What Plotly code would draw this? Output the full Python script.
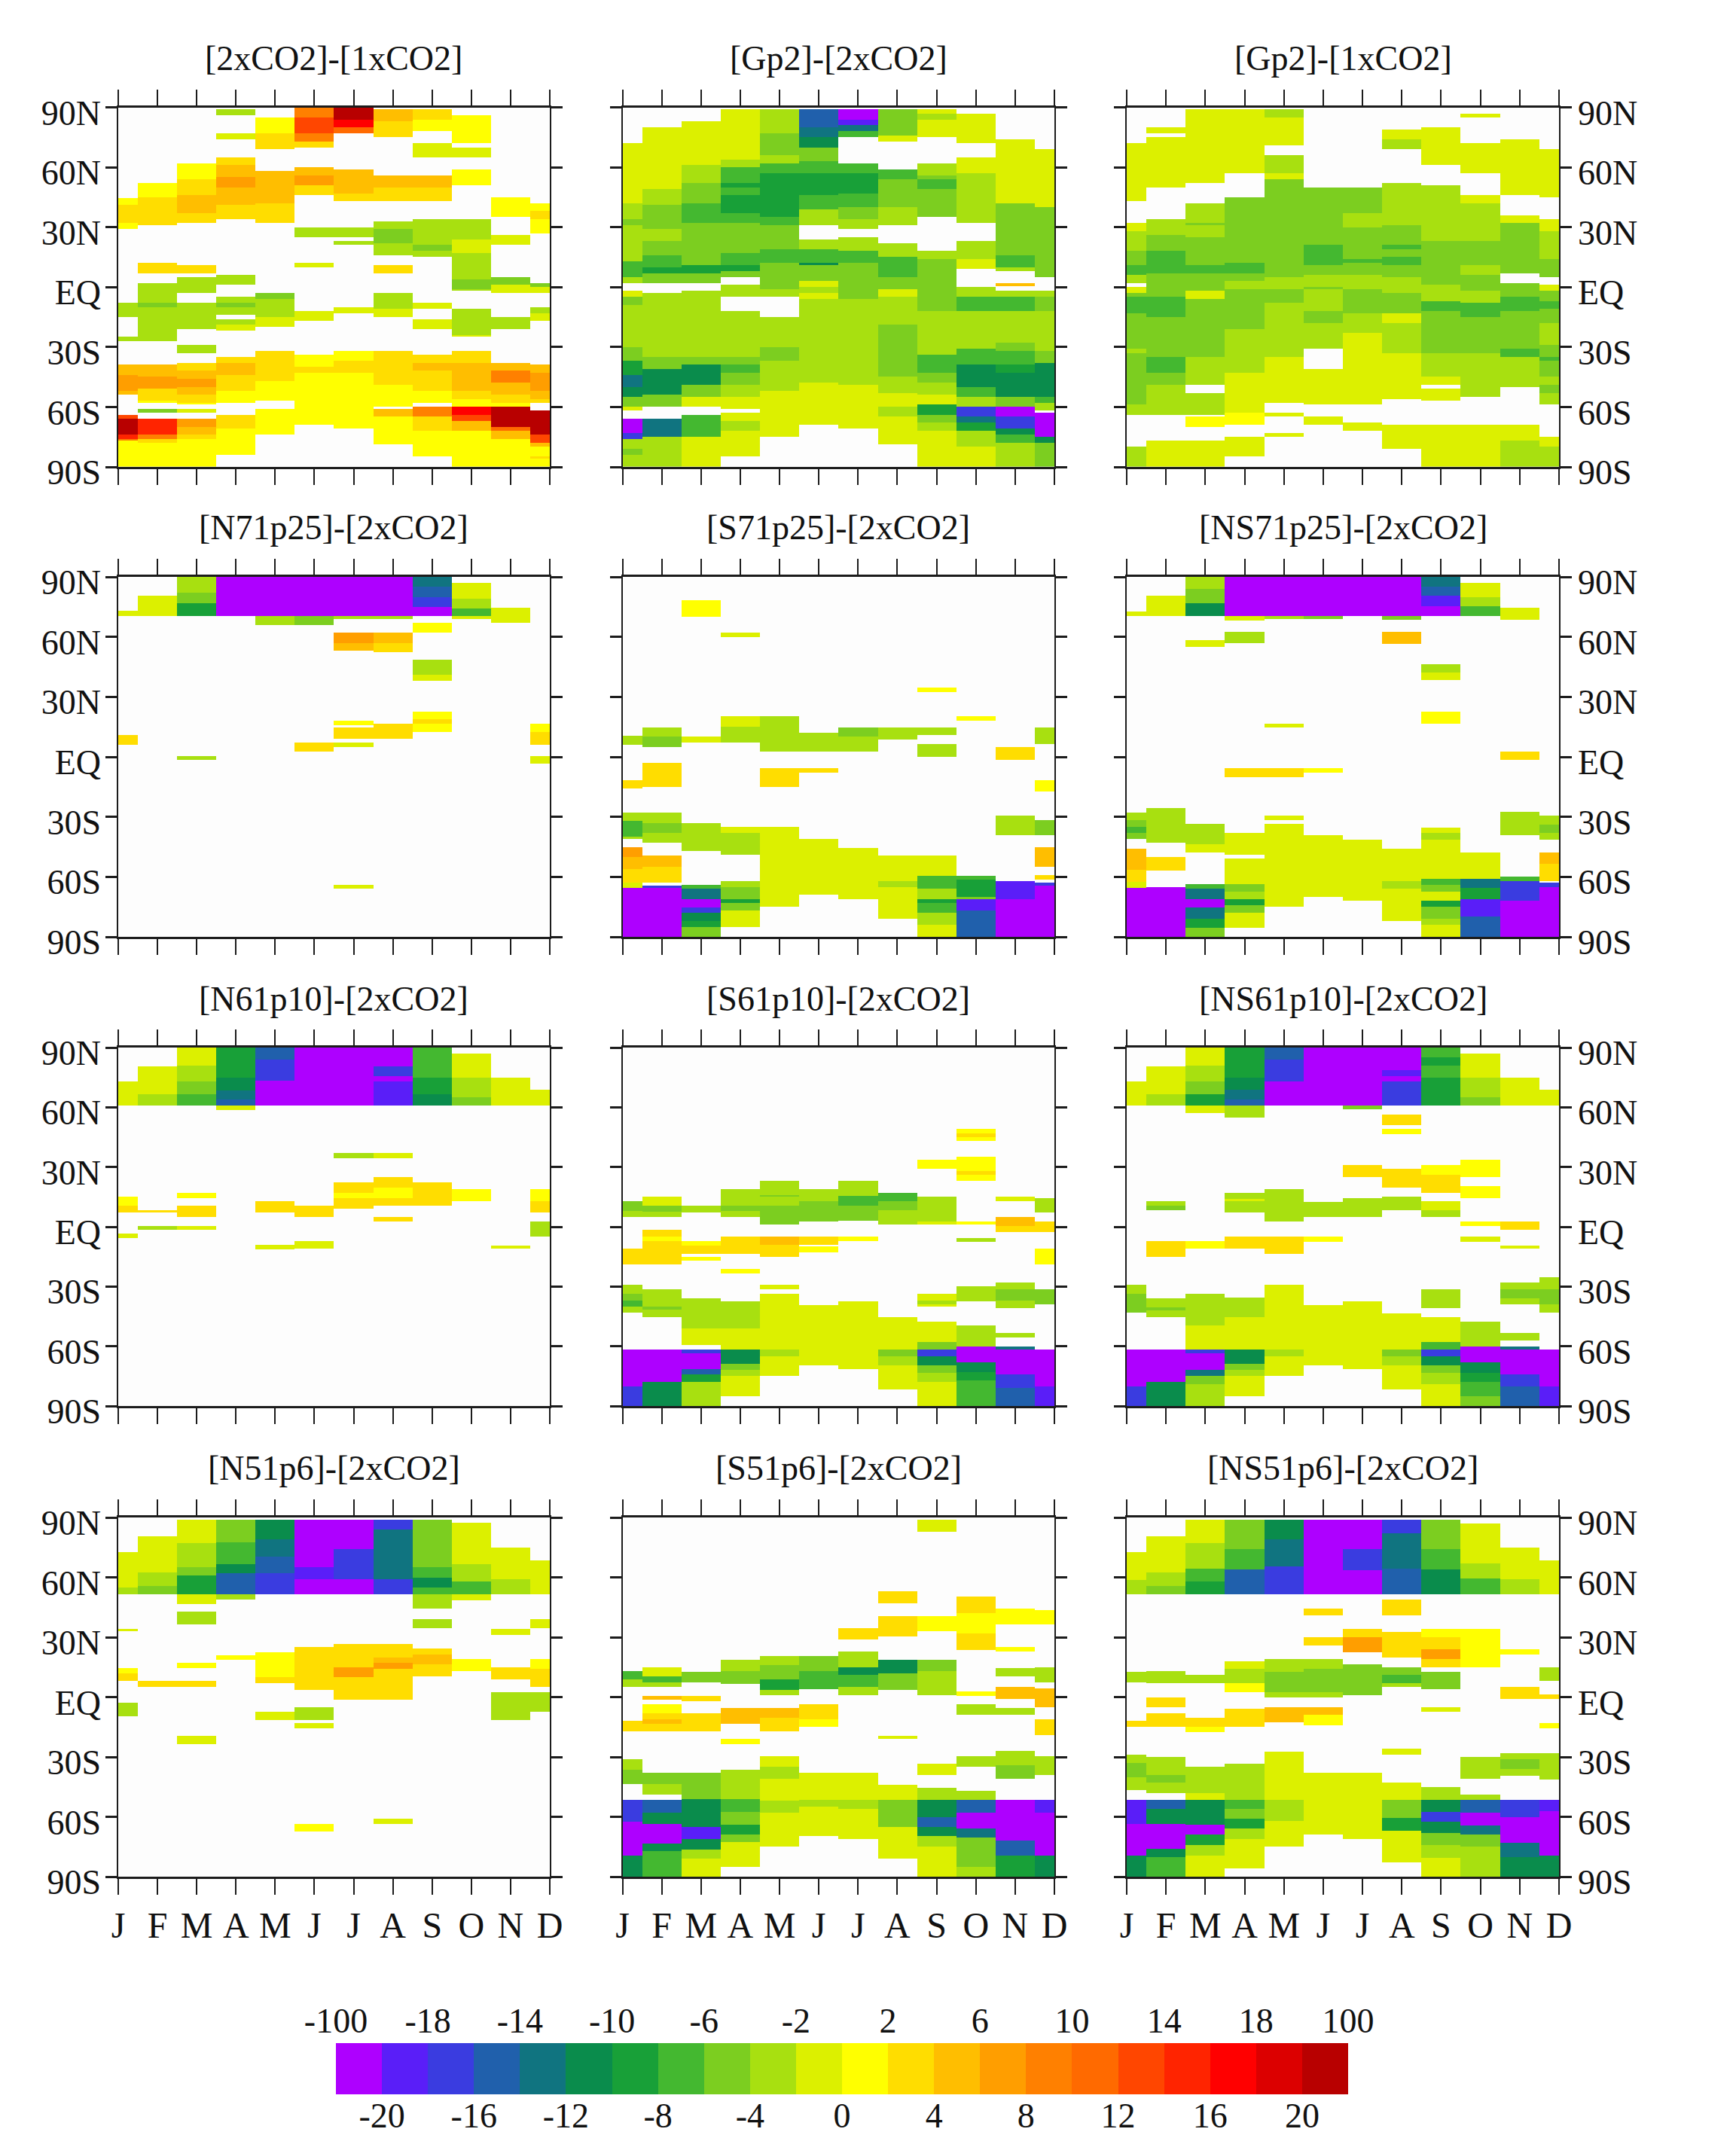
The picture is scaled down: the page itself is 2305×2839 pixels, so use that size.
import numpy as np
import plotly.graph_objects as go

# Each month is a run-length list: lat, value, lat, value, ..., lat  (0 = not significant / blank)
MONTHS = ["J", "F", "M", "A", "M", "J", "J", "A", "S", "O", "N", "D"]
LAT_TICKS = [90, 60, 30, 0, -30, -60, -90]
LAT_LABELS = ["90N", "60N", "30N", "EQ", "30S", "60S", "90S"]
BAR_EDGES = [-100, -20, -18, -16, -14, -12, -10, -8, -6, -4, -2, 0, 2, 4, 6, 8, 10, 12, 14, 16, 18, 20, 100]
BAR_COLORS = ["#AE00FF", "#5A1EF8", "#3A3CE0", "#2060AC", "#107480", "#0A8C4C", "#18A038", "#44B830",
              "#7CCE20", "#A8E010", "#DCF000", "#FFFF00", "#FFDD00", "#FFBE00", "#FF9E00", "#FF8000",
              "#FF6A00", "#FF4600", "#FF2400", "#FF0000", "#DC0000", "#B80000"]
TITLES = ["[2xCO2]-[1xCO2]", "[Gp2]-[2xCO2]", "[Gp2]-[1xCO2]",
          "[N71p25]-[2xCO2]", "[S71p25]-[2xCO2]", "[NS71p25]-[2xCO2]",
          "[N61p10]-[2xCO2]", "[S61p10]-[2xCO2]", "[NS61p10]-[2xCO2]",
          "[N51p6]-[2xCO2]", "[S51p6]-[2xCO2]", "[NS51p6]-[2xCO2]"]

P_2x1x = [
 [44.5,1,41,3,32,1,29,0,-8,-3,-15,0,-25,-3,-27,0,-39,5,-44,7,-52,5,-54,0,-64,13,-66,30,-74,15,-76,9,-77,1,-90],
 [52,1,45,3,31,0,12,3,7,0,2,-3,-8,-5,-10,-3,-27,0,-39,5,-45,7,-51,3,-57,1,-58,0,-61,-5,-63,0,-66,15,-74,9,-76,3,-78,1,-90],
 [62,1,54,3,46,5,37,3,32,0,11,3,7,0,5,-3,-3,0,-8,-3,-21,0,-29,-3,-33,0,-38,3,-42,5,-46,7,-50,5,-54,3,-58,1,-59,0,-61,-1,-63,0,-66,7,-70,5,-74,3,-76,1,-90],
 [89,-3,86,0,77,-1,74,0,65,3,61,5,55,7,50,5,41,3,34,0,6,-3,1,0,-5,-3,-8,-5,-10,-3,-14,0,-16,-3,-19,-1,-22,0,-35,3,-38,5,-44,3,-52,1,-58,0,-64,3,-71,1,-84,0,-90],
 [85,1,77,3,69,0,58,5,42,3,32,0,-3,-5,-6,-3,-15,-1,-20,0,-32,3,-47,1,-57,0,-61,1,-74,0,-90],
 [90,9,85,13,77,9,73,3,70,0,60,5,56,7,51,3,46,0,30,-3,25,0,12,-1,10,0,-12,-1,-17,0,-34,1,-40,3,-43,1,-69,0,-90],
 [90,30,84,17,80,11,77,0,59,5,47,3,43,0,30,-3,25,0,23,-3,21,0,-10,-1,-13,0,-32,1,-37,3,-43,1,-71,0,-90],
 [89,5,83,3,75,0,56,5,50,3,43,0,33,-3,29,-5,22,-3,16,0,11,3,7,0,-3,-3,-11,-1,-15,0,-32,3,-49,1,-60,0,-61,5,-65,1,-79,0,-90],
 [89,3,84,1,78,0,72,-1,65,0,56,5,50,3,43,0,34,-3,21,-5,18,-3,15,0,-8,-1,-11,0,-16,-1,-21,0,-34,3,-38,5,-42,3,-52,1,-58,0,-60,9,-65,3,-72,1,-85,0,-90],
 [86,1,72,0,70,-1,65,0,59,1,51,0,34,-3,24,-1,17,-3,4,-5,-1,-3,-2,0,-11,-3,-24,-1,-25,0,-32,3,-38,5,-52,3,-56,1,-60,17,-64,13,-67,5,-72,1,-90],
 [45,1,35,0,26,-1,21,0,5,-5,1,-1,-3,0,-15,-3,-21,0,-38,5,-42,9,-48,5,-54,3,-58,1,-60,30,-70,11,-72,5,-76,1,-90],
 [42,1,38,3,34,1,27,0,2,-5,0,-1,-3,0,-10,-3,-13,-1,-17,0,-39,5,-43,7,-52,5,-56,3,-58,0,-62,30,-74,13,-78,5,-80,1,-85,3,-86,1,-90],
]
P_Gp2_2x = [
 [72,-1,42,-3,34,-5,31,-3,13,-7,5,-3,2,0,-2,-1,-5,-5,-9,-3,-30,-5,-37,-9,-44,-14,-50,-11,-55,-5,-60,-1,-62,0,-66,-30,-73,-17,-76,-3,-81,-5,-84,-3,-90],
 [80,-1,49,-3,41,-5,29,-3,23,-5,16,-7,10,-9,7,-5,2,0,-3,-3,-35,-5,-41,-11,-54,-5,-60,0,-66,-14,-75,-3,-90],
 [83,-1,61,-3,52,-5,42,-7,32,-5,11,-9,7,-5,2,0,-2,-3,-35,-5,-39,-11,-49,-5,-55,-1,-60,0,-64,-7,-75,-1,-90],
 [89,-1,64,-3,60,-7,52,-9,50,-7,46,-9,37,-7,32,-5,17,-7,11,-9,8,-5,5,0,1,-3,-5,0,-12,-3,-35,-5,-39,-7,-43,-5,-49,-3,-55,-1,-61,0,-63,-1,-67,-3,-72,-1,-85,0,-90],
 [89,-3,77,-5,66,-3,62,-7,57,-9,35,-7,31,-5,19,-7,12,-5,-1,-3,-5,0,-15,-3,-30,-5,-37,-3,-52,-1,-75,0,-90],
 [89,-15,80,-13,75,-11,70,-5,63,-7,57,-10,46,-7,39,-3,31,0,24,-3,19,-7,12,-11,11,-5,3,-1,0,-3,-3,-1,-6,-3,-48,-1,-69,0,-90],
 [89,-30,84,-19,81,-13,78,-7,75,0,62,-7,57,-9,47,-7,40,-5,34,-3,29,0,25,-3,18,-7,12,-5,-6,-3,-49,-1,-71,0,-90],
 [89,-5,76,-1,73,0,59,-7,54,-5,40,-3,31,0,22,-3,15,-7,5,-5,-1,-1,-5,-3,-19,-5,-45,-3,-53,-1,-60,-3,-65,-1,-79,0,-90],
 [89,-1,87,-3,84,-1,75,0,62,-3,56,-5,54,-7,49,-5,35,0,18,-3,14,-5,-12,-3,-34,-7,-43,-5,-48,-3,-54,-1,-59,-10,-64,-5,-68,-3,-72,-1,-90],
 [87,-1,72,0,65,-1,57,-3,32,0,23,-3,14,-1,9,0,0,-3,-5,-7,-12,-3,-31,-7,-39,-11,-50,-7,-55,-3,-60,-18,-65,-13,-68,-9,-72,-3,-80,-1,-90],
 [74,-1,42,-5,16,-7,10,-3,8,0,2,5,0.5,0,-2,-3,-5,-7,-12,-3,-28,-5,-32,-7,-39,-9,-43,-12,-55,-5,-60,-30,-65,-18,-71,-11,-74,-7,-78,-3,-90],
 [69,-1,40,-5,5,0,-2,-3,-5,-5,-12,-3,-32,-5,-38,-11,-55,-7,-58,-3,-62,0,-63,-30,-75,-12,-78,-5,-90],
]
P_Gp2_1x = [
 [72,-1,43,0,32,-1,28,-3,18,-5,11,-7,6,-3,2,0,0,-1,-3,-5,-5,-7,-13,-5,-31,-3,-33,-5,-59,-3,-64,0,-80,-3,-90],
 [80,-1,77,0,75,-1,50,0,34,-3,26,-5,18,-7,7,-5,-5,-7,-15,-5,-35,-7,-43,-5,-49,-3,-64,0,-77,-1,-90],
 [89,-1,52,0,42,-3,32,-5,31,-3,25,-5,11,-7,7,-5,-2,-1,-6,-5,-35,-3,-49,0,-53,-3,-64,0,-65,1,-70,0,-77,-1,-90],
 [89,-1,57,0,45,-5,12,-7,7,-5,3,-3,-1,-5,-21,-3,-43,-1,-63,1,-69,0,-75,-1,-85,0,-90],
 [89,-3,85,-1,71,0,66,-3,57,-1,54,-5,5,-3,-1,-5,-8,-3,-35,-1,-58,0,-63,-1,-65,0,-73,-1,-75,0,-90],
 [50,-5,21,-7,11,-5,6,-3,0,-5,-1,-3,-12,-5,-18,-3,-31,0,-41,-1,-59,0,-65,-1,-69,0,-90],
 [50,-5,37,-3,30,-5,14,-7,12,-5,6,-3,-1,-5,-13,-3,-23,-1,-59,0,-68,-1,-72,0,-90],
 [79,-1,74,-3,69,0,52,-3,31,-5,21,-7,19,-5,15,-7,11,-5,5,-3,-3,-5,-13,-1,-18,-3,-33,-1,-56,0,-69,-1,-81,0,-90],
 [80,-1,61,0,51,-3,23,-5,1,-3,-7,-7,-12,-5,-33,-3,-45,-1,-49,0,-51,-1,-57,0,-69,-1,-90],
 [87,-1,85,0,72,-1,57,0,46,-1,42,-3,23,-5,11,-3,6,-5,-2,-3,-8,-7,-15,-5,-33,-3,-55,0,-69,-1,-90],
 [74,-1,46,0,36,-1,32,-5,7,0,2,-5,-5,-7,-12,-5,-31,-7,-35,-3,-50,0,-69,-1,-77,-3,-90],
 [69,-1,45,0,34,-1,28,-3,14,-5,5,0,1,-1,-2,-5,-7,-7,-11,-5,-18,-3,-29,-5,-35,-7,-37,-5,-45,-3,-49,-5,-53,-3,-59,0,-75,-1,-80,-3,-90],
]
P_N71 = [
 [73,-1,70.5,0,11,3,6,0,-90],
 [80.5,-1,70.5,0,-90],
 [90,-3,82,-5,77,-10,70.5,0,0.5,-3,-1.5,0,-90],
 [90,-30,70.5,0,-90],
 [90,-30,70.5,-3,66,0,-90],
 [90,-30,70.5,-6,66,0,7,3,2.5,0,-90],
 [90,-30,70.5,-3,69,0,62,7,57,5,53,0,18,1,16,0,14.5,3,9,0,7,-1,5,0,-64,-1,-66,0,-90],
 [90,-30,70.5,-3,69,0,62,5,57,3,52.5,0,16.5,3,9,0,-90],
 [90,-13,85,-15,80,-18,75,-30,70.5,0,67,1,62,0,48.5,-3,41,-1,38,0,22.5,1,19,3,16.5,1,12.5,0,-90],
 [87,-1,79,-3,74,-7,70.5,-1,69,0,-90],
 [74.5,-1,67,0,-90],
 [16.5,1,12.5,3,6,0,0.5,-1,-3.5,0,-90],
]
P_S71 = [
 [10.5,-3,6,0,-11.5,3,-16,0,-28,-3,-32,-7,-40,-3,-41,0,-45,7,-50,5,-56,3,-63,-1,-65.5,-30,-90],
 [14.5,-3,10,-5,5,0,-3,3,-15,0,-28,-3,-33,-5,-38,-3,-43,0,-49.5,5,-55,3,-63,0,-64.5,-17,-65.5,-30,-90],
 [78.5,1,70,0,10,-1,7,0,-33,-3,-47,0,-64,-7,-66,-13,-71,-30,-75.5,-17,-78,-12,-82,-9,-85,-5,-90],
 [62,-1,60,0,20.5,-1,15,-3,7,0,-35,-1,-38,-3,-49,0,-62,-3,-65,-5,-71,-9,-73,-5,-77,-1,-85,0,-90],
 [20.5,-3,2.5,0,-5.5,3,-15,0,-35,-1,-75,0,-90],
 [12,-3,2.5,0,-5.5,3,-8,0,-41,-1,-69,0,-90],
 [14.5,-5,10,-3,2.5,0,-45.5,-1,-71,0,-90],
 [14.5,-3,8.5,0,-49.5,-1,-62,-3,-65,-1,-81,0,-90],
 [34.5,1,32.5,0,14.5,-3,11,0,6.5,-3,0,0,-49.5,-1,-59.5,-7,-66,-3,-71,-9,-73,-7,-78,-3,-84,-1,-90],
 [20.5,1,18,0,-59.5,-7,-61.5,-10,-70,-5,-71,-19,-77,-16,-90],
 [5,3,-1.5,0,-29.5,-3,-39,0,-62,-19,-71,-30,-90],
 [14.5,-3,6.5,0,-11.5,1,-17.5,0,-31.5,-5,-39,0,-45,5,-55,0,-59,3,-61.5,0,-63,-17,-64.5,-30,-90],
]
P_NS71 = [
 [72.5,-1,70.5,0,-28,-3,-31.5,-5,-35,-7,-38,-5,-41,0,-46,5,-56.5,3,-62.5,-1,-65.5,-30,-90],
 [80.5,-1,70.5,0,-25.5,-3,-43,0,-50,3,-57,0,-65,-30,-90],
 [90,-3,84,-5,77,-11,70.5,0,58.5,-1,55,0,-33.5,-3,-43.5,-1,-48,0,-63.5,-7,-66,-14,-71,-30,-75.5,-14,-81,-9,-85.5,-5,-90],
 [90,-30,70.5,-1,68,0,62.5,-3,57,0,-5.5,3,-10,0,-38,-1,-49,0,-51,-1,-63.5,-5,-67.5,-3,-71,-9,-74,-5,-78,-1,-85.5,0,-90],
 [90,-30,70.5,-3,69,0,16.5,-1,14.5,0,-5.5,3,-10,0,-29.5,-1,-31.5,0,-33.5,-1,-75,0,-90],
 [90,-30,70.5,-5,69,0,-5.5,1,-8,0,-39,-1,-70,0,-90],
 [90,-30,70.5,0,-41.5,-1,-72,0,-90],
 [90,-30,70.5,-5,68.5,0,62.5,5,56.5,0,-46,-1,-62,-3,-66,-1,-82,0,-90],
 [90,-13,85,-15,80.5,-19,75.5,-30,70.5,0,46.5,-3,42,-1,38.5,0,22.5,1,16.5,0,-35.5,-1,-38,-3,-41.5,-1,-61,-7,-64,-5,-67.5,-1,-72,-9,-75,-5,-81,-3,-84,-1,-90],
 [87,-1,80,-3,75.5,-7,70.5,0,-48,-1,-61,-13,-65.5,-9,-71,-19,-80,-16,-90],
 [74.5,-1,68.5,0,2.5,3,-1.5,0,-27.7,-3,-39,0,-60,-7,-62,-18,-72,-30,-90],
 [-29.5,-3,-34,-5,-38,-3,-41.5,0,-48,5,-53.5,3,-62,0,-63,-18,-65,-30,-90],
]
P_N61 = [
 [73,-1,61,0,15,1,10.5,3,7,0,-3.5,-1,-5.5,0,-90],
 [80.5,-1,66.5,-3,61,0,8.5,3,7,0,0.5,-3,-1.5,0,-90],
 [90,-1,81,-3,73,-5,66.5,-7,61,0,17,1,14.5,0,10.5,3,5,0,0.5,-1,-1.5,0,-90],
 [90,-10,75,-11,68.5,-13,64,-16,61,-1,58.5,0,-90],
 [90,-15,84,-18,73.5,-30,61,0,13,3,7,0,-9,-1,-11.5,0,-90],
 [90,-30,61,0,10.5,3,5,0,-7,-1,-11,0,-90],
 [90,-30,61,0,37,-3,34.5,0,22.5,3,17,1,14.5,3,9,0,-90],
 [90,-30,80.5,-18,75.5,-30,73,-19,61,0,37,-1,34.5,0,25,3,19.5,1,14.5,3,10.5,0,5,3,2.5,0,-90],
 [90,-7,75,-9,66.5,-11,61,0,22.5,3,10.5,0,-90],
 [87,-1,75,-3,65,-5,61,0,19,1,13,0,-90],
 [75,-1,61,0,-9.5,-1,-11,0,-90],
 [69,-1,61,0,19,1,13,3,7,0,2.5,-3,-5,0,-90],
]
P_S61 = [
 [13,-5,8,-3,5,0,-11,3,-19,0,-29,-3,-33.5,-5,-37,-7,-40,-3,-43,0,-61.5,-30,-80,-18,-90],
 [15,-1,10.5,-5,7.5,-3,5,0,-1.5,3,-5,1,-7,3,-19,0,-31.5,-3,-40,-5,-41.5,-3,-45.5,0,-61.5,-30,-78,-11,-90],
 [10.5,-3,7,0,-7,1,-9.5,3,-13.5,0,-15,1,-17,0,-36,-3,-51,-1,-59.5,0,-61.5,-17,-63.5,-30,-71.5,-15,-74,-10,-78,-3,-90],
 [19,-3,10.5,-5,8,-3,5,0,-5,3,-13.5,0,-21,1,-23.5,0,-37.5,-3,-51,-1,-61.5,-11,-69,-5,-72,-3,-75,-1,-85,0,-90],
 [23,-3,16,-5,15,-3,10.5,-5,1,0,-5,5,-9,3,-15,0,-29,-1,-31.5,0,-33.5,-1,-61.5,-3,-65,-1,-75,0,-90],
 [19,-3,13,-5,2.5,0,-5,3,-9,0,-10,1,-13,0,-39.5,-1,-69.5,0,-90],
 [23,-3,15.5,-7,10.5,-5,3,0,-5,1,-7,0,-37.5,-1,-71.5,0,-90],
 [17,-7,13,-5,8.5,-3,1,0,-45.5,-1,-61.5,-5,-65,-3,-69.5,-1,-81.5,0,-90],
 [33.5,1,29,0,15,-3,2.5,-1,1,0,-33.5,-1,-37,-3,-39,-1,-40,0,-47.5,-1,-58,-5,-61.5,-18,-65,-11,-69.5,-5,-73.5,-3,-78,-1,-90],
 [49,1,47,3,45,1,43,0,35,1,28,3,26,1,23,0,2.5,1,1,0,-5.5,-3,-7.5,0,-30,-3,-37.5,0,-49.5,-3,-60,-30,-68,-12,-73,-10,-77,-7,-90],
 [15,-1,13,0,5,5,0.5,3,-2.5,0,-28,-3,-31.5,-5,-37,-3,-41,0,-53.5,-3,-55.5,0,-60,-13,-61.5,-30,-74,-17,-81,-15,-90],
 [14.5,-3,7,0,2.5,3,-2.5,0,-11,1,-19,0,-31.5,-5,-39,0,-61.5,-30,-80,-19,-90],
]
P_NS61 = [
 [73,-1,61,0,-29,-3,-33.5,-5,-43,0,-61.5,-30,-80,-18,-90],
 [80.5,-1,66.5,-3,61,0,13,-3,10.5,-5,8.5,0,-7,3,-15,0,-36,-3,-40.5,-5,-42,-3,-45.5,0,-61.5,-30,-78,-11,-90],
 [90,-1,81,-3,73,-5,66.5,-9,61,-1,57,0,-7,1,-11,0,-33.5,-3,-49.5,-1,-61.5,-17,-63.5,-30,-72,-13,-75,-5,-79,-3,-90],
 [90,-10,75,-11,69,-13,64,-16,61,-3,55,0,17,-3,14,-1,13,-3,7,0,-5,3,-11,0,-35.5,-3,-45.5,-1,-61.5,-11,-69,-5,-72,-3,-75,-1,-85,0,-90],
 [90,-16,84,-18,73,-30,61,0,19,-3,2.5,0,-5,3,-13.5,0,-29,-1,-61.5,-3,-65,-1,-75,0,-90],
 [90,-30,61,0,12.5,-3,5,0,-5,1,-7.5,0,-39.5,-1,-69.5,0,-90],
 [90,-30,61,-5,59,0,31,3,25,0,14.5,-3,5,0,-37.5,-1,-71.5,0,-90],
 [90,-30,78.5,-19,75.5,-30,73,-18,61,0,56.5,3,51,0,49,1,46.5,0,29,3,19.5,0,15,-3,8.5,0,-43.5,-1,-61.5,-5,-65,-3,-69.5,-1,-81.5,0,-90],
 [90,-7,85,-9,81,-7,75,-10,61,0,31,1,26,3,17,0,13,-1,8.5,-3,5,0,-31.5,-3,-41,0,-45.5,-1,-58,-7,-61.5,-17,-65,-11,-69.5,-5,-73.5,-3,-79,-1,-90],
 [87,-1,75,-3,65,-5,61,0,33.5,1,25,0,20.5,1,14.5,0,2.5,1,0.5,0,-5,-1,-7.5,0,-47.5,-3,-60,-30,-68,-12,-73.5,-9,-78,-7,-85,-5,-90],
 [75,-1,61,0,2.5,3,-1.5,0,-9.5,-1,-11,0,-28,-3,-31.5,-5,-36,-3,-39,0,-53.5,-3,-57,0,-60,-13,-61.5,-30,-74,-18,-80,-15,-90],
 [69,-1,61,0,-25.5,-3,-31.5,-5,-39,-3,-43,0,-61.5,-30,-80,-19,-90],
]
P_N51 = [
 [72.5,-1,55,-3,51.5,0,34,-1,33,0,14.5,1,12,3,8,0,-3,-3,-9.5,0,-90],
 [80.5,-1,62.5,-3,55.5,-5,51.5,0,8,3,5,0,-90],
 [89,-1,77,-3,65,-5,61,-9,51.5,-1,46.5,0,43,-3,36.5,0,17,1,14.5,0,8,3,5,0,-19.5,-1,-23.5,0,-90],
 [89,-5,77.5,-8,66.5,-11,62,-16,51.5,-3,49,0,21,1,18.5,0,-90],
 [89,-11,79,-14,70.5,-16,62,-18,51.5,0,22.5,1,10,3,7,0,-7.5,-1,-11.5,0,-90],
 [89,-30,65,-19,59,-30,51.5,0,25,3,3.5,0,-5,-3,-11.5,0,-13,-1,-15.5,0,-63.5,1,-67.5,0,-90],
 [89,-30,74,-18,59,-30,51.5,0,26.5,3,15,7,10,3,-1.5,0,-90],
 [89,-18,84,-14,59,-18,51.5,0,26.5,3,20,5,17,7,14,3,-1.5,0,-61,-1,-63.5,0,-90],
 [89,-5,65,-8,60,-12,55,-7,51.5,-3,44.5,0,39,-3,34.5,0,24.5,3,21.5,5,16.5,3,10.5,0,-90],
 [87.5,-1,66.5,-3,58,-7,51.5,-1,48.5,0,19,1,13,0,-90],
 [75,-1,59,-3,51.5,0,34,-1,31,0,15,3,9,0,2.5,-3,-11.5,0,-90],
 [68.5,-1,51.5,0,39,-1,34.5,0,19,1,14,3,5,0,2.5,-3,-7.5,0,-90],
]
P_S51 = [
 [13,-7,9,-3,5,0,-12,3,-17,0,-31,-3,-36.5,-5,-43.5,0,-51.5,-18,-62.5,-30,-79.5,-11,-90],
 [15,-1,10.5,-7,7.5,-3,5,0,0.5,5,-1.5,0,-3.5,1,-8,3,-11,5,-13.5,3,-17,0,-38,-5,-43.5,-3,-49,0,-51.5,-15,-58,-12,-63.5,-30,-73.5,-11,-77,-7,-90],
 [12.5,-6,7.5,0,0.5,3,-2,0,-8,3,-17,0,-38,-5,-51,-12,-58,-11,-65,-19,-71,-12,-76.5,-3,-81,-1,-90],
 [18.5,-3,13,-5,6.5,0,-5.5,5,-13.5,0,-21,1,-23.5,0,-36.5,-3,-51,-7,-57.5,-5,-64,-10,-69,-5,-72.5,-1,-85,0,-90],
 [20.5,-3,16,-5,9,-9,3.5,-3,1,0,-5.5,5,-10.5,3,-17,0,-29.5,-1,-35,-3,-41,-1,-52,-3,-58,-1,-75,0,-90],
 [20.5,-5,13,-7,4,0,-3.5,3,-11,1,-15,0,-38,-1,-51.5,-3,-55,-1,-69.5,0,-90],
 [34.5,3,29,0,23,-3,15,-11,11,-7,5,-3,1,0,-38,-1,-51.5,-3,-56,-1,-71,0,-90],
 [53,3,47,0,40.5,3,30.5,0,18.5,-11,12,-5,3.5,0,-19.5,-1,-21,0,-44,-1,-51.5,-5,-65,-1,-81,0,-90],
 [89,-1,83,0,40.5,1,33,0,18.5,-5,13,-3,1,0,-33.5,-1,-39,0,-45.5,-3,-51.5,-11,-60,-15,-65,-11,-69.5,-3,-75,-1,-90],
 [50.5,3,42,1,32,3,23.5,0,3,1,0.5,0,-3.5,-3,-9,0,-29.5,-3,-35,0,-47,-3,-51.5,-16,-58,-30,-66,-13,-70.5,-5,-85,-3,-90],
 [44.5,1,36.5,0,25,1,23,0,14.5,-3,10.5,0,5,5,-1,0,-5.5,-3,-9,0,-27,-3,-34,-5,-41,0,-51.5,-30,-72,-15,-79.5,-10,-90],
 [43.5,1,36.5,0,15,-3,7.5,0,4.5,5,-5,0,-11,3,-19,0,-29.5,-3,-39,0,-51.5,-19,-58,-30,-79.5,-11,-90],
]
P_NS51 = [
 [72.5,-1,58.5,-3,51.5,0,12.5,-3,7.5,0,-12,3,-15,0,-29,-3,-33,-5,-40,-3,-46.5,0,-51.5,-19,-63.5,-30,-79.5,-11,-90],
 [80.5,-1,62.5,-3,55.5,-5,51.5,0,13,-3,7,0,0,3,-5,0,-8,3,-15,0,-30,-3,-39,-5,-43,-3,-48,0,-51.5,-15,-56,-12,-63.5,-30,-76,-11,-80,-7,-90],
 [89,-1,77,-3,64.5,-7,58,-10,51.5,0,11,-3,7,0,-10.5,3,-15,1,-17.5,0,-35,-3,-48,-1,-51.5,-11,-56,-12,-64,-30,-69,-10,-74,-3,-79.5,-1,-90],
 [89,-5,74,-7,64,-16,51.5,0,18,-1,14,-3,7,1,2.5,0,-6,3,-15,0,-33.5,-3,-51.5,-7,-56,-5,-61,-10,-66,-3,-71,-1,-86,0,-90],
 [89,-11,79,-14,65.5,-18,51.5,0,19,-3,12.5,-5,2.5,-3,0,0,-5,5,-12.5,0,-27.5,-1,-51.5,-3,-62,-1,-75,0,-90],
 [89,-30,51.5,0,44.5,3,41,0,30,3,26,0,19,-3,14,-5,2.5,-3,0,0,-5,5,-9,1,-14,0,-38,-1,-69,0,-90],
 [89,-30,74,-18,63.5,-30,51.5,0,34,3,30,7,22.5,0,16.5,-5,1,0,-38,-1,-71,0,-90],
 [89,-18,82,-13,64.5,-16,51.5,0,49,3,41,0,32.5,3,20,0,15,-5,11,-7,7,-3,5,0,-26,-1,-29,0,-43,-1,-51.5,-6,-60.5,-9,-67,-1,-83,0,-90],
 [89,-6,74,-8,64,-12,57.5,-11,51.5,0,34,1,30,3,24,7,19,3,15,0,12.5,-5,4,0,-5,-1,-7.5,0,-45,-3,-51.5,-11,-57.5,-18,-62.5,-11,-68,-5,-74,-3,-80.5,-1,-90],
 [87,-1,67,-3,59.5,-7,51.5,0,34,1,15,0,-30,-3,-41,0,-49,-3,-51.5,-16,-58,-30,-64.5,-13,-69,-5,-75,-3,-90],
 [75,-1,59,-3,51.5,0,24,1,21.5,0,5,3,-1,0,-28,-3,-31,-5,-36,-3,-39.5,0,-51.5,-18,-60,-30,-73,-14,-80,-11,-90],
 [68.5,-1,51.5,0,15,-3,8,0,1.5,3,-1,0,-13,1,-15.5,0,-28,-3,-41.5,0,-51.5,-19,-57,-30,-79.5,-11,-90],
]
PANELS = [P_2x1x, P_Gp2_2x, P_Gp2_1x, P_N71, P_S71, P_NS71, P_N61, P_S61, P_NS61, P_N51, P_S51, P_NS51]

W, H = 2305, 2839
COL_PX = [(157, 730), (826.5, 1400), (1496, 2070)]
ROW_PX = [(142.6, 620), (766, 1244), (1391, 1867), (2015, 2492)]
BAR_PX = (446, 1790, 2713, 2781)
FONT = "Liberation Serif"
INK = "#1c1c1c"

lat_centers = np.arange(-89.75, 90, 0.5)
edges = np.array(BAR_EDGES, dtype=float)


def panel_grid(panel):
    grid = np.full((lat_centers.size, 12), np.nan)
    for m, runs in enumerate(panel):
        for i in range(0, len(runs) - 1, 2):
            top, val, bot = runs[i], runs[i + 1], runs[i + 2]
            if val == 0:
                continue
            mask = (lat_centers < top) & (lat_centers >= bot)
            grid[mask, m] = np.digitize(val, edges) - 1 + 0.5
    return grid


def sfx(k):
    return "" if k == 1 else str(k)


n = len(BAR_COLORS)
scale = []
for i, c in enumerate(BAR_COLORS):
    scale += [[i / n, c], [(i + 1) / n, c]]

fig = go.Figure()
annotations = []
for idx, panel in enumerate(PANELS):
    r, c = divmod(idx, 3)
    k = idx + 1
    x0, x1 = COL_PX[c]
    y0, y1 = ROW_PX[r]
    fig.add_trace(go.Heatmap(z=panel_grid(panel), x=list(range(12)), y=lat_centers,
                             colorscale=scale, zmin=0, zmax=n, showscale=False,
                             hoverongaps=False, xaxis=f"x{sfx(k)}", yaxis=f"y{sfx(k)}"))
    fig.layout[f"xaxis{sfx(k)}"] = dict(
        domain=[x0 / W, x1 / W], range=[0, 11], anchor=f"y{sfx(k)}",
        tickmode="array", tickvals=list(range(12)), ticktext=MONTHS,
        ticks="outside", ticklen=21, tickwidth=1.6, tickcolor=INK, mirror="allticks",
        showline=True, linewidth=3, linecolor=INK, showgrid=False, zeroline=False,
        showticklabels=(r == 3), tickfont=dict(family=FONT, size=48, color="#111"),
        ticklabelstandoff=-1)
    fig.layout[f"yaxis{sfx(k)}"] = dict(
        domain=[1 - y1 / H, 1 - y0 / H], range=[-90, 90], anchor=f"x{sfx(k)}",
        tickmode="array", tickvals=LAT_TICKS, ticktext=LAT_LABELS,
        ticks="outside", ticklen=15, tickwidth=3, tickcolor=INK, mirror="allticks",
        showline=True, linewidth=1.6, linecolor=INK, showgrid=False, zeroline=False,
        showticklabels=(c != 1), side="left" if c == 0 else "right",
        tickfont=dict(family=FONT, size=46, color="#111"),
        ticklabelshift=7, ticklabelstandoff=-3 if c == 0 else -1)
    annotations.append(dict(text=TITLES[idx], xref=f"x{sfx(k)} domain", yref=f"y{sfx(k)} domain",
                            x=0.5, y=1, xanchor="center", yanchor="middle", yshift=65,
                            showarrow=False, font=dict(family=FONT, size=46, color="#111")))

# Colour bar: one row of cells with alternating labels above and below
bar_vals = [[i + 0.5 for i in range(n)]]
bar_x = [i + 0.5 for i in range(n)]
bx0, bx1, by0, by1 = BAR_PX
bar_lab = [str(v) for v in BAR_EDGES]
for k, side, start, standoff in ((13, "top", 0, 4), (14, "bottom", 1, -3)):
    fig.add_trace(go.Heatmap(z=bar_vals, x=bar_x, y=[0], colorscale=scale, zmin=0, zmax=n,
                             showscale=False, xaxis=f"x{k}", yaxis="y13"))
    axis = dict(
        domain=[bx0 / W, bx1 / W], range=[0, n], anchor="y13", side=side,
        tickmode="array", tickvals=list(range(start, n + 1, 2)), ticktext=bar_lab[start::2],
        ticks="", showline=False, showgrid=False, zeroline=False,
        tickfont=dict(family=FONT, size=46, color="#111"), ticklabelstandoff=standoff)
    if k == 14:
        axis["overlaying"] = "x13"
    fig.layout[f"xaxis{k}"] = axis
fig.layout["yaxis13"] = dict(domain=[1 - by1 / H, 1 - by0 / H], range=[-0.5, 0.5], anchor="x13",
                             showticklabels=False, ticks="", showline=False, showgrid=False, zeroline=False)

fig.update_layout(width=W, height=H, autosize=False,
                  margin=dict(l=0, r=0, t=0, b=0, pad=0, autoexpand=False),
                  paper_bgcolor="white", plot_bgcolor="#FDFDFD", showlegend=False,
                  annotations=annotations, font=dict(family=FONT))
fig.write_html("out.html", config={"displayModeBar": False},
               post_script="document.body.style.margin='0';")
